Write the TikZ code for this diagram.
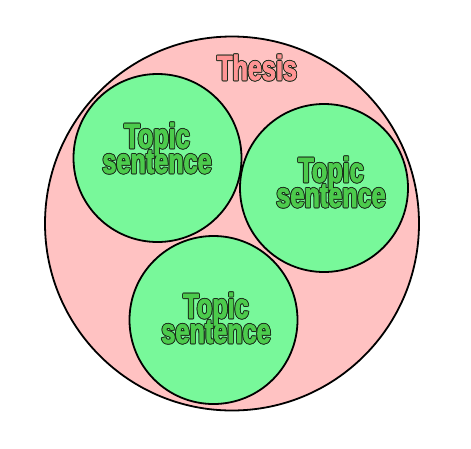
\documentclass[tikz,border=0pt]{standalone}
\usepackage{fontspec}
\newfontfamily\impactish[FakeStretch=0.72,FakeBold=2.2]{Liberation Sans Bold}
\definecolor{thesisfill}{HTML}{FFC2C2}
\definecolor{thesistext}{HTML}{FF9494}
\definecolor{topicfill}{HTML}{78F89A}
\definecolor{topictext}{HTML}{4CCB4C}
\definecolor{textedge}{HTML}{1A2A1A}
\newcommand\twolines[2]{\vbox{\baselineskip=25pt\lineskiplimit=-100pt
  \halign{\hfil##\hfil\cr#1\cr#2\cr}}}
\tikzset{
  outer/.style={circle, draw=black, line width=1.8pt, fill=thesisfill, inner sep=0pt, minimum size=374pt},
  inner/.style={circle, draw=black, line width=1.8pt, fill=topicfill, inner sep=0pt, minimum size=168pt},
  lbl/.style={inner sep=0pt, font=\impactish\fontsize{35}{25}\selectfont}
}
\newcommand\outlabel[5]{%
  \foreach \dx/\dy [count=\k] in {0.9/0,-0.9/0,0/0.9,0/-0.9,0.64/0.64,-0.64/0.64,0.64/-0.64,-0.64/-0.64}
    {\node[lbl,text=textedge] (#1-o\k) at ([shift={(\dx,\dy)}]#2,#3) {#5};}
  \node[lbl,text=#4] (#1) at (#2,#3) {#5};
}
\begin{document}
\begin{tikzpicture}[x=1pt,y=-1pt]
\useasboundingbox (0,0) rectangle (471,448);
\node[outer] (thesis) at (232,223.5) {};
\node[inner] (t1) at (157.5,158) {};
\node[inner] (t2) at (324,188) {};
\node[inner] (t3) at (213.5,320) {};
\outlabel{thesislbl}{257}{67.5}{thesistext}{Thesis}
\outlabel{l1}{157}{148}{topictext}{\twolines{Topic}{sentence}}
\outlabel{l2}{331}{182}{topictext}{\twolines{Topic}{sentence}}
\outlabel{l3}{216}{318}{topictext}{\twolines{Topic}{sentence}}
\end{tikzpicture}
\end{document}
